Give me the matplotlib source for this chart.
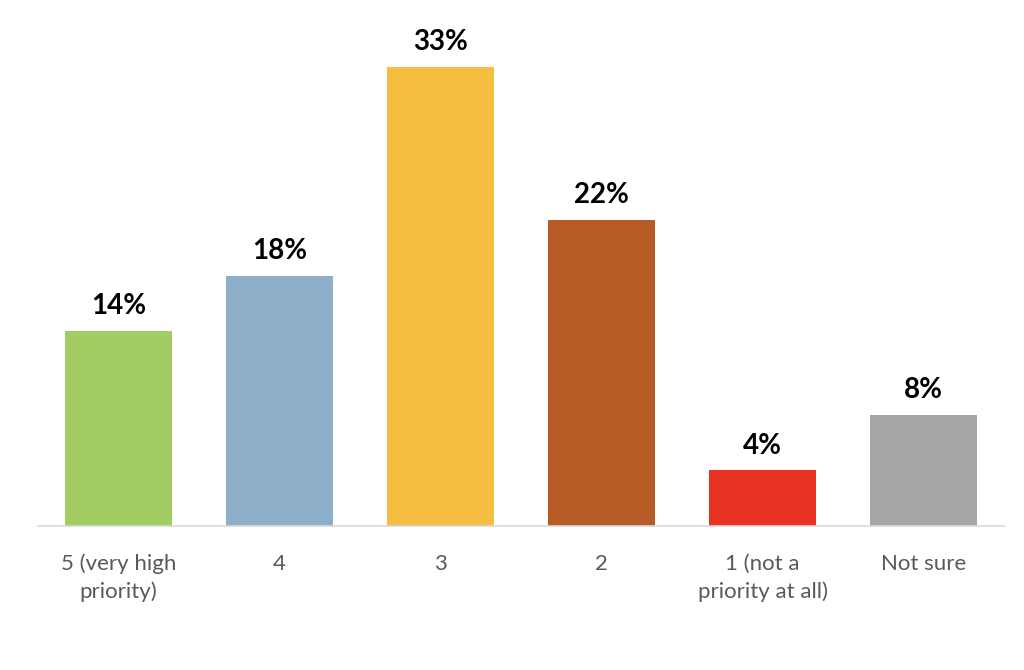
import matplotlib
matplotlib.use("Agg")
import matplotlib.pyplot as plt

categories = ["5 (very high\npriority)", "4", "3", "2", "1 (not a\npriority at all)", "Not sure"]
values = [14, 18, 33, 22, 4, 8]
colors = ["#A2CD62", "#8EAFC9", "#F5BE41", "#B85C27", "#E73223", "#A6A6A6"]

plt.rcParams['font.family'] = ['Lato', 'DejaVu Sans']

fig = plt.figure(figsize=(10.24, 6.7), dpi=100)
ax = fig.add_axes([38/1024, 1 - 526/670, 966/1024, 506/670])

x = range(len(values))
ax.bar(x, values, width=0.665, color=colors)
for i, v in enumerate(values):
    ax.text(i, v + 0.85, f"{v}%", ha='center', va='bottom', fontsize=20, fontweight='bold', color='black')

ax.set_xlim(-0.5, len(values) - 0.5)
ax.set_ylim(0, 33 * 506 / 459)
ax.set_xticks(list(x))
ax.set_xticklabels(categories, fontsize=16, color='#595959', linespacing=1.45, va='top')
ax.tick_params(axis='x', length=0, pad=20)
ax.set_yticks([])
for s in ['top', 'right', 'left']:
    ax.spines[s].set_visible(False)
ax.spines['bottom'].set_color('#d9d9d9')
ax.spines['bottom'].set_linewidth(1.2)

fig.savefig("out.png", dpi=100)
